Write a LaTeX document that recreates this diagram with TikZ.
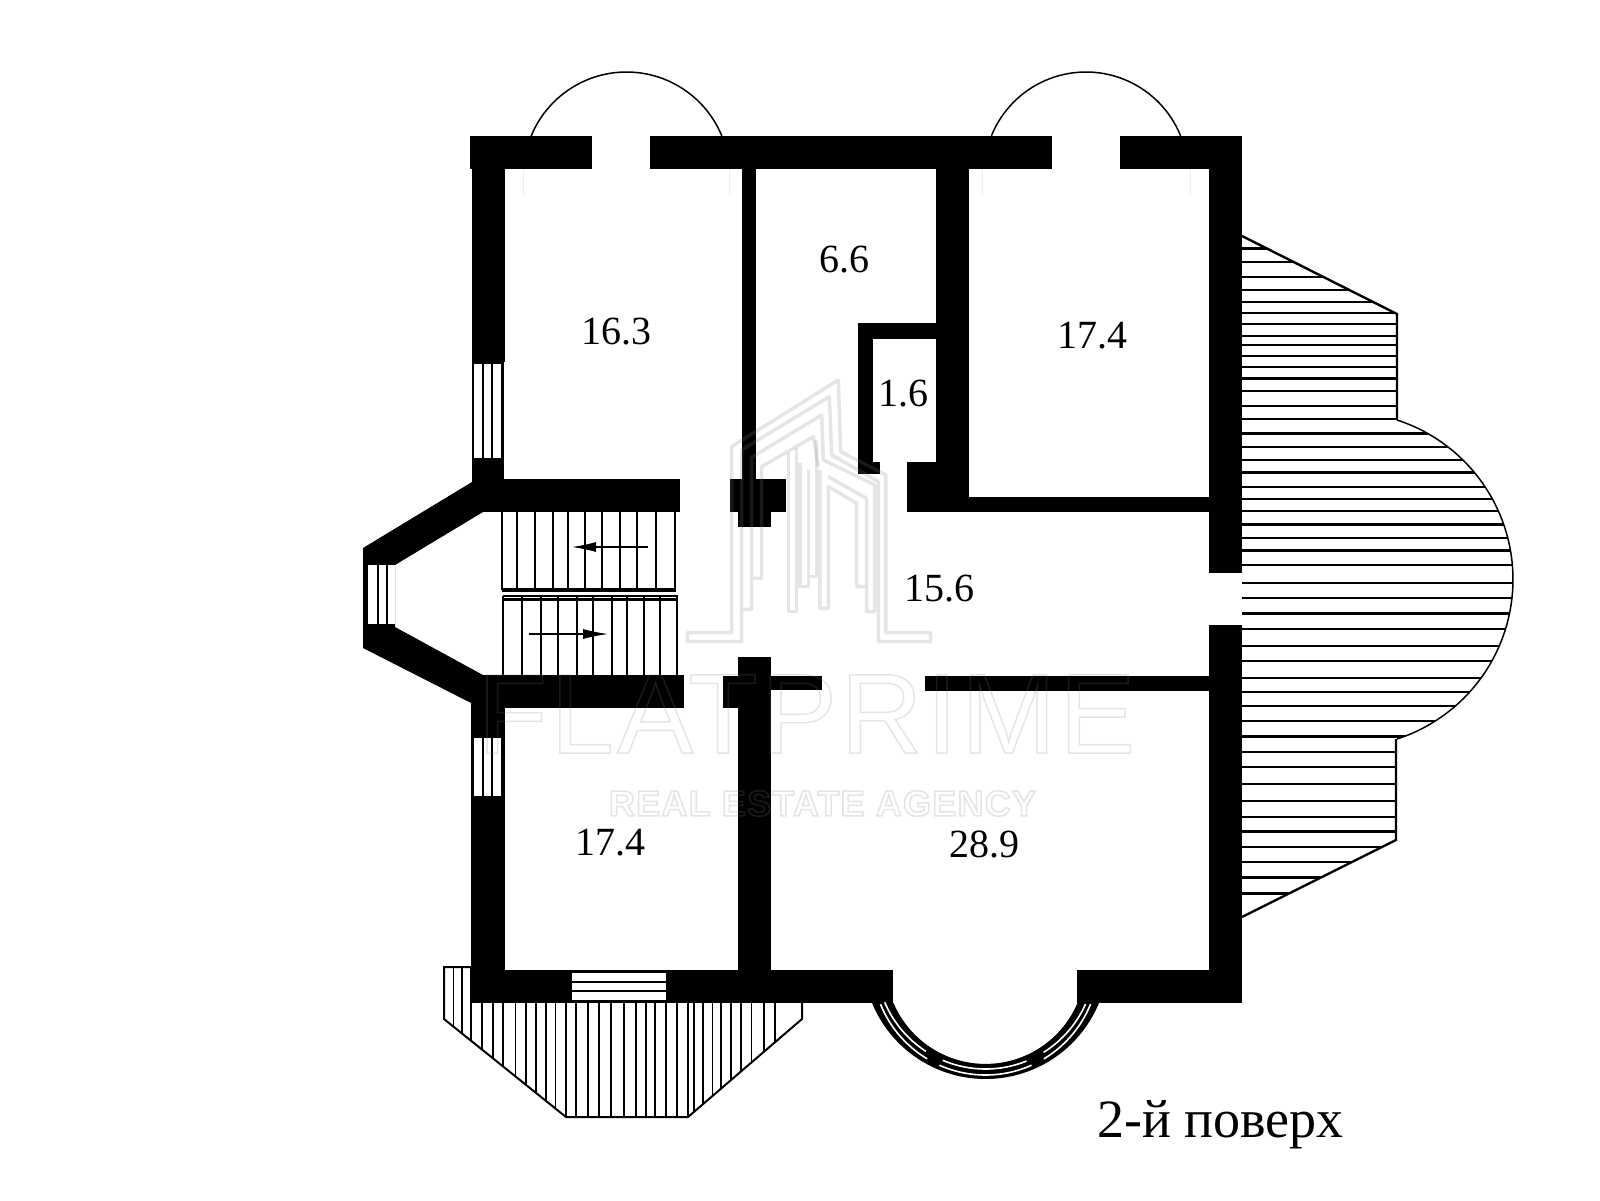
\documentclass[tikz,border=0pt]{standalone}
\usepackage{fontspec}
\usetikzlibrary{arrows.meta}
\setmainfont{Liberation Serif}
\newfontfamily\wmA[LetterSpace=2.9]{Liberation Sans}
\newfontfamily\wmB[LetterSpace=3.4,BoldFont={Liberation Sans Bold}]{Liberation Sans}
\newcommand{\outl}[2]{\special{pdf:code q 1 Tr #1 w}#2\special{pdf:code Q}}
\tikzset{
  wall/.style={fill=black,draw=none},
  glaze/.style={fill=white,draw=none},
  thinline/.style={draw=black,line width=1.6pt},
  hatchline/.style={draw=black,line width=2.2pt},
  room/.style={font=\fontsize{40}{48}\selectfont,inner sep=0pt,text=black},
  logoline/.style={draw=black!50,line width=3.5pt,line join=round},
}
\begin{document}
\begin{tikzpicture}[x=1pt,y=-1pt]
\useasboundingbox (0,0) rectangle (1600,1200);
\fill[white] (0,0) rectangle (1600,1200);

% --- right balcony
\def\balcony{(1242,236) -- (1397,314) -- (1397,420)
  -- plot[domain=-72:72,samples=60] ({1345.3+167.7*cos(\x)},{579.5+167.7*sin(\x)})
  -- (1396,840) -- (1242,917) -- cycle}
\begin{scope}
\clip \balcony;
\foreach \v in {62,92,125,152,178,202,227,252,272,297,320,345,373,405,433,465,495,522,550,582,608,634,663,692,720,752,790,823,857,890,927,960,997,1028,1058,1092,1125,1158,1192,1228,1265,1300,1332,1365,1398,1432,1467}
  \draw[hatchline] (1240,{220+\v/2.178}) -- (1520,{220+\v/2.178});
\end{scope}
\draw[thinline,line width=2.4pt,line join=miter] (1242,236) -- (1397,314) -- (1397,420);
\draw[thinline,line width=1.5pt] plot[domain=-72:72,samples=60] ({1345.3+167.7*cos(\x)},{579.5+167.7*sin(\x)});
\draw[thinline,line width=2.4pt] (1396,739) -- (1396,840) -- (1242,917);

% --- bottom balcony
\begin{scope}
\clip (444,967) -- (444,1019) -- (566,1117) -- (688,1117) -- (802,1019) -- (802,1003) -- (472,1003) -- (472,967) -- cycle;
\foreach \v in {73,92,112,135,158,180,208,230,253,275,295,317,340,365,390,415,445,470,492,512,535,560,583,597,617,637,655,677,700,722,750,773}
  \draw[hatchline,line width=1.9pt] ({420+\v/2.178},960) -- ({420+\v/2.178},1120);
\end{scope}
\draw[thinline,line width=2pt,line join=miter] (472,967) -- (444,967) -- (444,1019) -- (566,1117) -- (688,1117) -- (802,1019) -- (802,1003);

% --- door arcs
\draw[thinline,line width=1.5pt] plot[domain=202:338,samples=50] ({626.5+103*cos(\x)},{175+103*sin(\x)});
\draw[thinline,line width=1.5pt] plot[domain=202:338,samples=50] ({1086+102*cos(\x)},{174+102*sin(\x)});
\foreach \v in {523,729,982,1190}
  \draw[black!7,line width=.8pt] (\v,169) -- (\v,195);

% --- stair flights
\foreach \v in {502,517,535,553,568,585,602,620,637,656,675}
  \draw[hatchline,line width=2.2pt] (\v,512) -- (\v,590);
\draw[wall] (502,588) rectangle (676,592);
\draw[thinline] (503,596) -- (678,596);
\draw[wall] (503,598) rectangle (678,601);
\foreach \v in {503,522,541,558,577,593,612,627,644,660,677}
  \draw[hatchline,line width=2.2pt] (\v,596) -- (\v,676);
\draw[-{Latex[length=24pt,width=10pt]},line width=1.1pt] (648,547) -- (572,547);
\draw[-{Latex[length=25pt,width=10pt]},line width=1.1pt] (529,634) -- (608,634);

% --- walls
\fill[wall] (470,136) rectangle (592,169);
\fill[wall] (650,136) rectangle (1052,169);
\fill[wall] (1120,136) rectangle (1242,169);
\fill[wall] (472,136) rectangle (505,362);
\fill[wall] (472,458) rectangle (504,512);
\fill[wall] (1209,136) rectangle (1242,573);
\fill[wall] (1209,625) rectangle (1242,1003);
% left window upper
\fill[wall] (472,362) rectangle (504,458);
\fill[glaze] (474,364) rectangle (501,458);
\fill[wall] (482,362) rectangle (484,458);
\fill[wall] (491,362) rectangle (493,458);
% stair walls and diagonals
\fill[wall] (472,479) rectangle (680,512);
\fill[wall] (472,482) -- (363,548) -- (363,648) -- (471,703) -- (505,703) -- (505,675) -- (483,675) -- (395,627) -- (395,565) -- (483,512) -- cycle;
\fill[wall] (363,548) rectangle (368,648);
\fill[glaze] (368,565) rectangle (395,624);
\fill[wall] (377,565) rectangle (379,624);
\fill[wall] (386,565) rectangle (388,624);
\fill[wall] (475,675) rectangle (684,708);
\fill[wall] (471,703) rectangle (505,970);
% left window lower
\fill[glaze] (474,738) rectangle (501,796);
\fill[wall] (482,738) rectangle (484,796);
\fill[wall] (491,738) rectangle (493,796);
% bottom wall
\fill[wall] (471,970) rectangle (893,1003);
\fill[wall] (1077,970) rectangle (1242,1003);
\fill[glaze] (572,973) rectangle (666,1000);
\fill[wall] (572,981) rectangle (666,983);
\fill[wall] (572,990) rectangle (666,992);
% centre partition
\fill[wall] (742,169) rectangle (756,479);
\fill[wall] (730,479) rectangle (786,512);
\fill[wall] (738,512) rectangle (771,527);
\fill[wall] (738,657) rectangle (771,970);
\fill[wall] (723,676) rectangle (738,708);
\fill[wall] (771,676) rectangle (822,690);
\fill[wall] (925,676) rectangle (1209,691);
% closet and right room
\fill[wall] (936,169) rectangle (969,512);
\fill[wall] (907,462) rectangle (936,512);
\fill[wall] (969,497) rectangle (1209,512);
\fill[wall] (858,323) rectangle (936,339);
\fill[wall] (858,323) rectangle (873,474);
\fill[wall] (858,462) rectangle (880,474);

% --- bay window
\fill[wall] plot[domain=22.4:157.6,samples=60] ({985.5+122.7*cos(\x)},{956.3+122.7*sin(\x)})
  -- plot[domain=157:23,samples=60] ({985.5+99.9*cos(\x)},{964+99.9*sin(\x)}) -- cycle;
\foreach \a/\b in {22/59,66/114,121/158}{
  \draw[white,line width=1.6pt] plot[domain=\a:\b,samples=30] ({985.5+113.3*cos(\x)},{961.7+113.3*sin(\x)});
  \draw[white,line width=1.6pt] plot[domain=\a+2:\b-1,samples=30] ({985.5+109.5*cos(\x)},{959.5+109.5*sin(\x)});
}

% --- watermark
\begin{scope}[opacity=.2]
\node[inner sep=0pt,text=black!50,font=\wmA\fontsize{114}{114}\selectfont] (wmone) at (806.5,714) {\outl{1.5}{FLATPRIME}};
\node[inner sep=0pt,text=black!50,font=\wmB\bfseries\fontsize{36}{36}\selectfont] (wmtwo) at (822.5,803.5) {\outl{1.6}{REAL ESTATE AGENCY}};
\begin{scope}[shift={(680,370)},x=.3333pt,y=-.3333pt]
\draw[logoline] (22,788) -- (155,788) -- (155,230) -- (475,30) -- (482,245) -- (618,315) -- (618,788) -- (752,788) -- (752,815) -- (595,815) -- (595,335) -- (455,255) -- (448,80) -- (185,240) -- (185,815) -- (22,815) -- cycle;
\draw[logoline] (190,718) -- (215,718) -- (215,262) -- (425,135) -- (430,270) -- (585,345) -- (585,725) -- (560,725) -- (560,385) -- (445,320);
\draw[logoline] (220,625) -- (245,625) -- (245,290) -- (400,200) -- (415,290);
\draw[logoline] (325,250) -- (325,725) -- (350,725) -- (350,235);
\draw[logoline] (420,300) -- (420,715) -- (445,715) -- (445,350) -- (530,400) -- (530,650) -- (555,650);
\draw[logoline] (360,280) -- (360,650) -- (385,650) -- (385,300);
\draw[logoline] (390,620) -- (410,620) -- (410,210);
\end{scope}
\end{scope}

% --- labels
\node[room] (a) at (616,332) {16.3};
\node[room] (b) at (844,260) {6.6};
\node[room] (c) at (1092,336) {17.4};
\node[room] (d) at (903,394) {1.6};
\node[room] (e) at (939,589) {15.6};
\node[room] (f) at (610,843) {17.4};
\node[room] (g) at (984,844) {28.9};
\node[inner sep=0pt,anchor=base west,font=\fontsize{54}{60}\selectfont] (h) at (1097,1137) {2-й поверх};
\end{tikzpicture}
\end{document}
